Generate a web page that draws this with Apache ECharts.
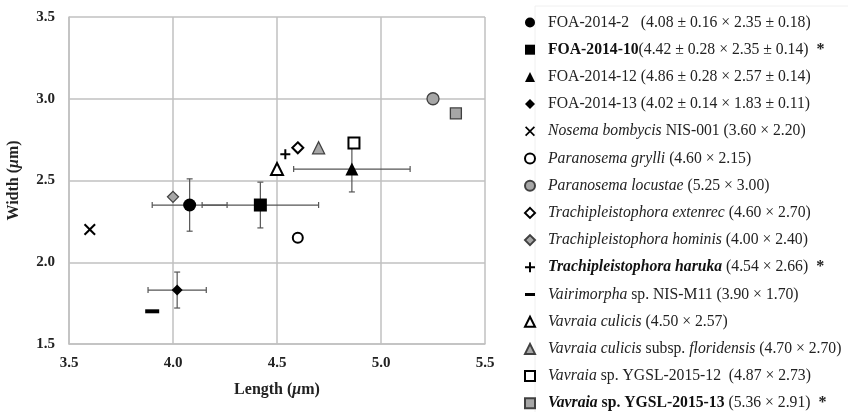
<!DOCTYPE html>
<html><head><meta charset="utf-8">
<script src="https://cdn.jsdelivr.net/npm/echarts@6/dist/echarts.min.js"></script>
<style>html,body{margin:0;padding:0;background:#fff}#c{width:848px;height:412px}</style>
</head><body><div id="c"></div>
<script>
const names = ['FOA-2014-2','FOA-2014-10','FOA-2014-12','FOA-2014-13','Nosema bombycis NIS-001','Paranosema grylli','Paranosema locustae','Trachipleistophora extenrec','Trachipleistophora hominis','Trachipleistophora haruka','Vairimorpha sp. NIS-M11','Vavraia culicis','Vavraia culicis subsp. floridensis','Vavraia sp. YGSL-2015-12','Vavraia sp. YGSL-2015-13'];
const lengths = [4.08,4.42,4.86,4.02,3.60,4.60,5.25,4.60,4.00,4.54,3.90,4.50,4.70,4.87,5.36];
const widths  = [2.35,2.35,2.57,1.83,2.20,2.15,3.00,2.70,2.40,2.66,1.70,2.57,2.70,2.73,2.91];
const errLength = [0.18,0.28,0.28,0.14];
const errWidth  = [0.16,0.14,0.14,0.11];
const xTicks = [3.5,4.0,4.5,5.0,5.5];
const yTicks = [1.5,2.0,2.5,3.0,3.5];
const legendText = [
 '{n|FOA-2014-2   (4.08 ± 0.16 × 2.35 ± 0.18)}',
 '{b|FOA-2014-10}{n|(4.42 ± 0.28 × 2.35 ± 0.14)}{s|  *}',
 '{n|FOA-2014-12 (4.86 ± 0.28 × 2.57 ± 0.14)}',
 '{n|FOA-2014-13 (4.02 ± 0.14 × 1.83 ± 0.11)}',
 '{i|Nosema bombycis}{n| NIS-001 (3.60 × 2.20)}',
 '{i|Paranosema grylli}{n| (4.60 × 2.15)}',
 '{i|Paranosema locustae}{n| (5.25 × 3.00)}',
 '{i|Trachipleistophora extenrec}{n| (4.60 × 2.70)}',
 '{i|Trachipleistophora hominis}{n| (4.00 × 2.40)}',
 '{bi|Trachipleistophora haruka}{n| (4.54 × 2.66)}{s|  *}',
 '{i|Vairimorpha}{n| sp. NIS-M11 (3.90 × 1.70)}',
 '{i|Vavraia culicis}{n| (4.50 × 2.57)}',
 '{i|Vavraia culicis}{n| subsp. }{i|floridensis}{n| (4.70 × 2.70)}',
 '{i|Vavraia}{n| sp. YGSL-2015-12  (4.87 × 2.73)}',
 '{bi|Vavraia}{b| sp. YGSL-2015-13}{n| (5.36 × 2.91)}{s|  *}'
];
const FONT = "'Liberation Serif','Times New Roman',serif";
const crossPath = 'path://M0,1.2 L1.2,0 L5,3.8 L8.8,0 L10,1.2 L6.2,5 L10,8.8 L8.8,10 L5,6.2 L1.2,10 L0,8.8 L3.8,5 Z';
const plusPath = 'path://M4,0 H6 V4 H10 V6 H6 V10 H4 V6 H0 V4 H4 Z';
const dashPath = 'path://M0,0 H10 V3 H0 Z';
const BLK = {color:'#000', borderColor:'#000', borderWidth:0};
const OPEN = {color:'#fff', borderColor:'#000', borderWidth:2};
const GRAY = {color:'#a6a6a6', borderColor:'#404040', borderWidth:1.3};
const styles = [
 {symbol:'circle', size:13, item:BLK},
 {symbol:'rect', size:13, item:BLK},
 {symbol:'triangle', size:13, item:BLK},
 {symbol:'diamond', size:11, item:BLK},
 {symbol:crossPath, size:12, item:BLK},
 {symbol:'circle', size:10, item:OPEN},
 {symbol:'circle', size:12, item:GRAY},
 {symbol:'diamond', size:11, item:OPEN},
 {symbol:'diamond', size:11, item:GRAY},
 {symbol:plusPath, size:10, item:BLK},
 {symbol:dashPath, size:[14,4], item:BLK},
 {symbol:'triangle', size:12, item:OPEN},
 {symbol:'triangle', size:12, item:GRAY},
 {symbol:'rect', size:11, item:OPEN},
 {symbol:'rect', size:11, item:GRAY}
];
const legendIcons = ['circle','rect','triangle','diamond',crossPath,'circle','circle','diamond','diamond',plusPath,dashPath,'triangle','triangle','rect','rect'];
const series = names.map((n,i)=>({
  name:n, type:'scatter', z:5,
  symbol:styles[i].symbol, symbolSize:styles[i].size,
  itemStyle:Object.assign({opacity:1}, styles[i].item),
  emphasis:{disabled:true},
  data:[[lengths[i], widths[i]]]
}));
const errData = errLength.map((e,i)=>[lengths[i], widths[i], e, errWidth[i]]);
series.unshift({
  type:'custom', name:'err', z:2, silent:true,
  data:errData,
  renderItem:function(params, api){
    const x = api.value(0), y = api.value(1), ex = api.value(2), ey = api.value(3);
    const l = api.coord([x-ex,y]), r = api.coord([x+ex,y]);
    const t = api.coord([x,y+ey]), b = api.coord([x,y-ey]);
    const st = {stroke:'#555', lineWidth:1.2, fill:null};
    const c = 3;
    const ln = (x1,y1,x2,y2)=>({type:'line', shape:{x1,y1,x2,y2}, style:st});
    return {type:'group', children:[
      ln(l[0],l[1],r[0],r[1]), ln(l[0],l[1]-c,l[0],l[1]+c), ln(r[0],r[1]-c,r[0],r[1]+c),
      ln(t[0],t[1],b[0],b[1]), ln(t[0]-c,t[1],t[0]+c,t[1]), ln(b[0]-c,b[1],b[0]+c,b[1])
    ]};
  }
});
const FS = 15.7;
const rich = {
  n:{fontFamily:FONT, fontSize:FS, color:'#222', lineHeight:16},
  i:{fontFamily:FONT, fontSize:FS, fontStyle:'italic', color:'#222', lineHeight:16},
  b:{fontFamily:FONT, fontSize:FS, fontWeight:'bold', color:'#111', lineHeight:16},
  bi:{fontFamily:FONT, fontSize:FS, fontWeight:'bold', fontStyle:'italic', color:'#111', lineHeight:16},
  s:{fontFamily:FONT, fontSize:16, fontWeight:'bold', color:'#222', lineHeight:16}
};
const chart = echarts.init(document.getElementById('c'), null, {renderer:'canvas'});
chart.setOption({
  animation:false,
  backgroundColor:'#fff',
  grid:{left:69, right:363, top:17, bottom:68, show:false},
  xAxis:{type:'value', min:xTicks[0], max:xTicks[xTicks.length-1], interval:0.5,
    name:'{b|Length (}{bi|μ}{b|m)}', nameLocation:'middle', nameGap:38,
    nameTextStyle:{rich:{b:{fontFamily:FONT,fontSize:16,fontWeight:'bold',color:'#222'},bi:{fontFamily:FONT,fontSize:16,fontWeight:'bold',fontStyle:'italic',color:'#222'}}},
    axisLine:{lineStyle:{color:'#c0c0c0', width:1.5}}, axisTick:{show:false},
    splitLine:{show:true, lineStyle:{color:'#c0c0c0', width:1.5}},
    axisLabel:{fontFamily:FONT, fontSize:15, fontWeight:'bold', color:'#222', margin:12, formatter:v=>v.toFixed(1)}
  },
  yAxis:{type:'value', min:yTicks[0], max:yTicks[yTicks.length-1], interval:0.5,
    name:'{b|Width (}{bi|μ}{b|m)}', nameLocation:'middle', nameGap:47, nameRotate:90,
    nameTextStyle:{rich:{b:{fontFamily:FONT,fontSize:16,fontWeight:'bold',color:'#222'},bi:{fontFamily:FONT,fontSize:16,fontWeight:'bold',fontStyle:'italic',color:'#222'}}},
    axisLine:{show:true, lineStyle:{color:'#c0c0c0', width:1.5}}, axisTick:{show:false},
    splitLine:{show:true, lineStyle:{color:'#c0c0c0', width:1.5}},
    axisLabel:{fontFamily:FONT, fontSize:15, fontWeight:'bold', color:'#222', margin:14, formatter:v=>v.toFixed(1)}
  },
  legend:{
    orient:'vertical', left:524, top:14.5, height:460, padding:0, itemGap:11.2,
    itemWidth:10, itemHeight:10, selectedMode:false,
    data:names.map((n,i)=>({name:n, icon:legendIcons[i]})),
    formatter:function(name){ return legendText[names.indexOf(name)]; },
    textStyle:{rich:rich, padding:[0,0,0,8]}
  },
  graphic:[
    {type:'line', silent:true, shape:{x1:535,y1:6,x2:848,y2:6}, style:{stroke:'#f0f0f0', lineWidth:1}},
    {type:'line', silent:true, shape:{x1:535,y1:6,x2:535,y2:412}, style:{stroke:'#f0f0f0', lineWidth:1}}
  ],
  series:series
});
</script></body></html>
